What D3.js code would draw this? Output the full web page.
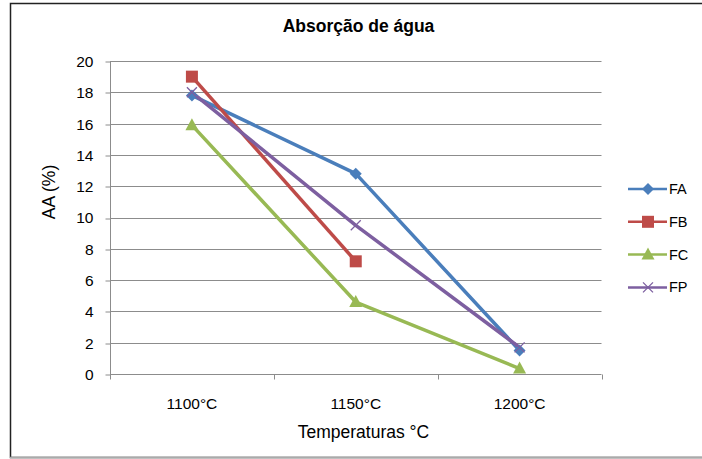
<!DOCTYPE html>
<html>
<head>
<meta charset="utf-8">
<script src="https://cdn.jsdelivr.net/npm/d3@7"></script>
<style>
  body { margin: 0; background: #fff; }
  svg { display: block; font-family: "Liberation Sans", Arial, sans-serif; }
  .tick text { fill: #000; font-size: 15.5px; }
</style>
</head>
<body>
<svg id="chart" width="702" height="459"></svg>
<script>
const categories = ["1100°C", "1150°C", "1200°C"];
const yTicks = [0, 2, 4, 6, 8, 10, 12, 14, 16, 18, 20];

const seriesNames = ["FA", "FB", "FC", "FP"];
const faValues = [17.8, 12.8, 1.5];
const fbValues = [19.0, 7.2, null];
const fcValues = [15.9, 4.6, 0.35];
const fpValues = [18.0, 9.5, 1.7];
const seriesColors = ["#4a7ebb", "#be4b48", "#98b954", "#7d5fa0"];
const seriesMarkers = ["diamond", "square", "triangle", "cross"];

const series = seriesNames.map((name, i) => ({
  name,
  values: [faValues, fbValues, fcValues, fpValues][i],
  color: seriesColors[i],
  marker: seriesMarkers[i]
}));

const svg = d3.select("#chart");
const margin = { left: 110, right: 601.5, top: 61, bottom: 374 };

const x = d3.scaleBand().domain(categories).range([margin.left, margin.right]);
const y = d3.scaleLinear().domain([0, 20]).range([margin.bottom, margin.top]);

// frame
svg.append("rect")
  .attr("x", 10.5).attr("y", 3.5).attr("width", 700).attr("height", 454)
  .attr("fill", "#fff").attr("stroke", "#222").attr("stroke-width", 1.5);
svg.append("line")
  .attr("x1", 10).attr("x2", 702).attr("y1", 457.5).attr("y2", 457.5)
  .attr("stroke", "#aaa").attr("stroke-width", 1.5);

// gridlines
svg.append("g")
  .selectAll("line")
  .data(yTicks.slice(1))
  .join("line")
  .attr("x1", margin.left).attr("x2", margin.right)
  .attr("y1", (d) => Math.round(y(d)) + 0.5).attr("y2", (d) => Math.round(y(d)) + 0.5)
  .attr("stroke", "#8c8c8c");

// y axis
const yAxis = svg.append("g")
  .attr("transform", `translate(${margin.left + 0.5},0.5)`)
  .call(d3.axisLeft(y).tickValues(yTicks).tickSize(5).tickPadding(12));
yAxis.selectAll("line, path").attr("stroke", "#8c8c8c");
yAxis.select(".domain").attr("d", `M0,${margin.top}V${margin.bottom}`);
yAxis.selectAll(".tick line").attr("transform", (d) => `translate(0,${Math.round(y(d)) - y(d)})`);

// x axis
const xAxis = svg.append("g")
  .attr("transform", `translate(0,${margin.bottom + 0.5})`)
  .call(d3.axisBottom(x).tickSize(0).tickPadding(23.5));
xAxis.select(".domain").attr("stroke", "#8c8c8c").attr("d", `M${margin.left},0H${margin.right}`);
xAxis.append("g")
  .selectAll("line")
  .data(d3.range(categories.length + 1))
  .join("line")
  .attr("x1", (i) => Math.round(margin.left + i * x.bandwidth()) + 0.5)
  .attr("x2", (i) => Math.round(margin.left + i * x.bandwidth()) + 0.5)
  .attr("y1", 0).attr("y2", 5)
  .attr("stroke", "#8c8c8c");

// titles
svg.append("text")
  .attr("x", 358.5).attr("y", 32)
  .attr("text-anchor", "middle")
  .attr("font-size", 17.5).attr("font-weight", "bold")
  .text("Absorção de água");

svg.append("text")
  .attr("transform", "translate(55,192) rotate(-90)")
  .attr("text-anchor", "middle")
  .attr("font-size", 17.5)
  .text("AA (%)");

svg.append("text")
  .attr("x", 363.5).attr("y", 438)
  .attr("text-anchor", "middle")
  .attr("font-size", 17.5)
  .text("Temperaturas °C");

function drawMarker(g, type, color) {
  if (type === "diamond") {
    g.append("path").attr("d", "M0,-6L6,0L0,6L-6,0Z").attr("fill", color);
  } else if (type === "square") {
    g.append("rect").attr("x", -6).attr("y", -6).attr("width", 12).attr("height", 12).attr("fill", color);
  } else if (type === "triangle") {
    g.append("path").attr("d", "M0,-7L6.5,5L-6.5,5Z").attr("fill", color);
  } else {
    g.append("path").attr("d", "M-5,-5L5,5M-5,5L5,-5").attr("stroke", color).attr("stroke-width", 1.3);
  }
}

const line = d3.line()
  .defined((d) => d != null)
  .x((d, i) => x(categories[i]) + x.bandwidth() / 2)
  .y((d) => y(d));

const plot = svg.append("g");
series.forEach((s) => {
  plot.append("path")
    .datum(s.values)
    .attr("fill", "none")
    .attr("stroke", s.color)
    .attr("stroke-width", 3.5)
    .attr("stroke-linejoin", "round")
    .attr("d", line);
});
series.forEach((s) => {
  s.values.forEach((v, i) => {
    if (v == null) return;
    const g = plot.append("g")
      .attr("transform", `translate(${x(categories[i]) + x.bandwidth() / 2},${y(v)})`);
    drawMarker(g, s.marker, s.color);
  });
});

// legend
const legend = svg.append("g").attr("transform", "translate(628,189)");
series.forEach((s, i) => {
  const row = legend.append("g").attr("transform", `translate(0,${i * 32.8})`);
  row.append("line").attr("x1", 0).attr("x2", 39).attr("stroke", s.color).attr("stroke-width", 2.5);
  const m = row.append("g").attr("transform", "translate(20,0)");
  drawMarker(m, s.marker, s.color);
  row.append("text")
    .attr("x", 41).attr("y", 5)
    .attr("font-size", 14.5)
    .text(s.name);
});
</script>
</body>
</html>
